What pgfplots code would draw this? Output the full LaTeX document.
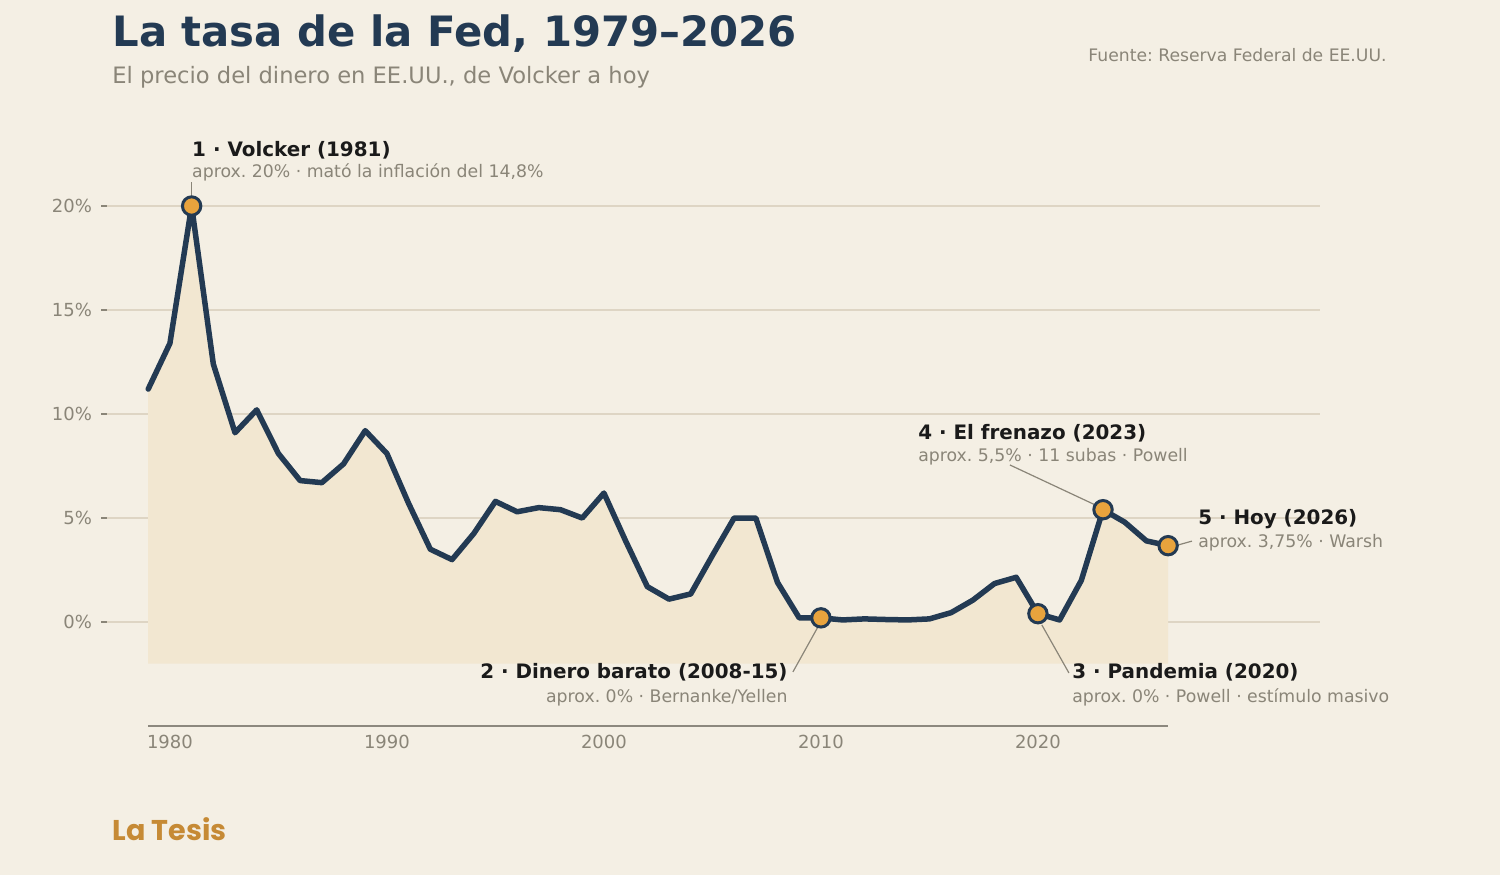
\documentclass[border=0pt]{standalone}
\usepackage{fontspec}
\setmainfont{DejaVu Sans}
\newfontfamily\poppins{Poppins}
\usepackage{pgfplots}
\pgfplotsset{compat=1.18}
\frenchspacing
\definecolor{bgcol}{RGB}{244,239,228}
\definecolor{navy}{RGB}{35,58,83}
\definecolor{orng}{RGB}{232,163,61}
\definecolor{gridc}{RGB}{222,213,196}
\definecolor{grayt}{RGB}{138,133,120}
\definecolor{fillc}{RGB}{242,231,209}
\definecolor{blk}{RGB}{26,26,26}
\definecolor{brand}{RGB}{198,138,53}
\definecolor{axc}{RGB}{140,136,126}
\tikzset{anntit/.style={inner sep=0, text=blk, font=\fontsize{9.95pt}{11pt}\selectfont\bfseries},
         annsub/.style={inner sep=0, text=grayt, font=\fontsize{8.65pt}{10pt}\selectfont}}
\begin{document}
\begin{tikzpicture}
\fill[bgcol] (0,0) rectangle (750pt,-437.5pt);
\node[anchor=base west, inner sep=0, text=navy, font=\fontsize{20.9pt}{24pt}\selectfont\bfseries] at (56pt,-23pt) {La tasa de la Fed, 1979–2026};
\node[anchor=base west, inner sep=0, text=grayt, font=\fontsize{11.3pt}{13pt}\selectfont] at (56pt,-41.7pt) {El precio del dinero en EE.UU., de Volcker a hoy};
\node[anchor=base east, inner sep=0, text=grayt, font=\fontsize{8.6pt}{10pt}\selectfont] at (693.5pt,-30.8pt) {Fuente: Reserva Federal de EE.UU.};
\node[anchor=base west, inner sep=0, text=brand, font=\fontsize{14.3pt}{16pt}\selectfont\poppins\bfseries] at (56pt,-420pt) {La Tesis};
\begin{axis}[
  at={(53.5pt,-363pt)}, anchor=south west,
  scale only axis, width=606.5pt, height=291.2pt,
  xmin=1977.1, xmax=2033, ymin=-5, ymax=23,
  axis line style={draw=none},
  axis x line*=bottom, axis y line*=left,
  clip=false,
  xtick={1980,1990,2000,2010,2020},
  xticklabels={1980,1990,2000,2010,2020},
  ytick={0,5,10,15,20},
  yticklabels={0\%,5\%,10\%,15\%,20\%},
  tick align=outside,
  major tick length=3pt,
  xtick style={draw=none},
  ytick style={draw=grayt, line width=0.6pt},
  ymajorgrids, grid style={gridc, line width=0.6pt},
  ticklabel style={text=grayt, font=\fontsize{9pt}{10pt}\selectfont},
  /pgf/number format/assume math mode=true,
  yticklabel style={xshift=-1pt},
  xticklabel style={yshift=2pt},
]
\addplot[fill=fillc, draw=none, forget plot] coordinates {
(1979,-2) (1979,11.2) (1980,13.4) (1981,20.0) (1982,12.4) (1983,9.1) (1984,10.2) (1985,8.1) (1986,6.8) (1987,6.7) (1988,7.6) (1989,9.2) (1990,8.1) (1991,5.7) (1992,3.5) (1993,3.0) (1994,4.25) (1995,5.8) (1996,5.3) (1997,5.5) (1998,5.4) (1999,5.0) (2000,6.2) (2001,3.9) (2002,1.7) (2003,1.1) (2004,1.35) (2005,3.2) (2006,5.0) (2007,5.0) (2008,1.9) (2009,0.2) (2010,0.2) (2011,0.1) (2012,0.15) (2013,0.12) (2014,0.1) (2015,0.15) (2016,0.45) (2017,1.05) (2018,1.85) (2019,2.15) (2020,0.4) (2021,0.1) (2022,2.0) (2023,5.4) (2024,4.8) (2025,3.9) (2026,3.67) (2026,-2)
} -- cycle;
\draw[axc, line width=1pt] (axis cs:1979,-5) -- (axis cs:2026,-5);
\addplot[navy, line width=2.75pt, line join=round, line cap=round, mark=none] coordinates {
(1979,11.2) (1980,13.4) (1981,20.0) (1982,12.4) (1983,9.1) (1984,10.2) (1985,8.1) (1986,6.8) (1987,6.7) (1988,7.6) (1989,9.2) (1990,8.1) (1991,5.7) (1992,3.5) (1993,3.0) (1994,4.25) (1995,5.8) (1996,5.3) (1997,5.5) (1998,5.4) (1999,5.0) (2000,6.2) (2001,3.9) (2002,1.7) (2003,1.1) (2004,1.35) (2005,3.2) (2006,5.0) (2007,5.0) (2008,1.9) (2009,0.2) (2010,0.2) (2011,0.1) (2012,0.15) (2013,0.12) (2014,0.1) (2015,0.15) (2016,0.45) (2017,1.05) (2018,1.85) (2019,2.15) (2020,0.4) (2021,0.1) (2022,2.0) (2023,5.4) (2024,4.8) (2025,3.9) (2026,3.67)
};
% leader lines
\draw[grayt, line width=0.6pt] (axis cs:1981,20.5) -- (axis cs:1981,21.15);
\draw[grayt, line width=0.6pt] (axis cs:2018.71,7.55) -- (axis cs:2022.7,5.6);
\draw[grayt, line width=0.6pt] (axis cs:2027.1,3.89) -- (axis cs:2026.45,3.7);
\draw[grayt, line width=0.6pt] (axis cs:2008.71,-2.40) -- (axis cs:2009.86,-0.24);
\draw[grayt, line width=0.6pt] (axis cs:2021.43,-2.45) -- (axis cs:2020.18,-0.14);
\addplot[only marks, mark=*, mark size=4.6pt, mark options={fill=orng, draw=navy, line width=1.5pt}] coordinates {(1981,20) (2010,0.2) (2020,0.4) (2023,5.4) (2026,3.67)};
% annotations
\node[anntit, anchor=base west] at (axis cs:1981.01,22.40) {1 · Volcker (1981)};
\node[annsub, anchor=base west] at (axis cs:1981.01,21.35) {aprox. 20\% · mató la inflación del 14,8\%};
\node[anntit, anchor=base west] at (axis cs:2014.47,8.78) {4 · El frenazo (2023)};
\node[annsub, anchor=base west] at (axis cs:2014.47,7.71) {aprox. 5,5\% · 11 subas · Powell};
\node[anntit, anchor=base west] at (axis cs:2027.37,4.71) {5 · Hoy (2026)};
\node[annsub, anchor=base west] at (axis cs:2027.37,3.56) {aprox. 3,75\% · Warsh};
\node[anntit, anchor=base east] at (axis cs:2008.48,-2.71) {2 · Dinero barato (2008-15)};
\node[annsub, anchor=base east] at (axis cs:2008.48,-3.88) {aprox. 0\% · Bernanke/Yellen};
\node[anntit, anchor=base west] at (axis cs:2021.57,-2.71) {3 · Pandemia (2020)};
\node[annsub, anchor=base west] at (axis cs:2021.57,-3.88) {aprox. 0\% · Powell · estímulo masivo};
\end{axis}
\end{tikzpicture}
\end{document}
